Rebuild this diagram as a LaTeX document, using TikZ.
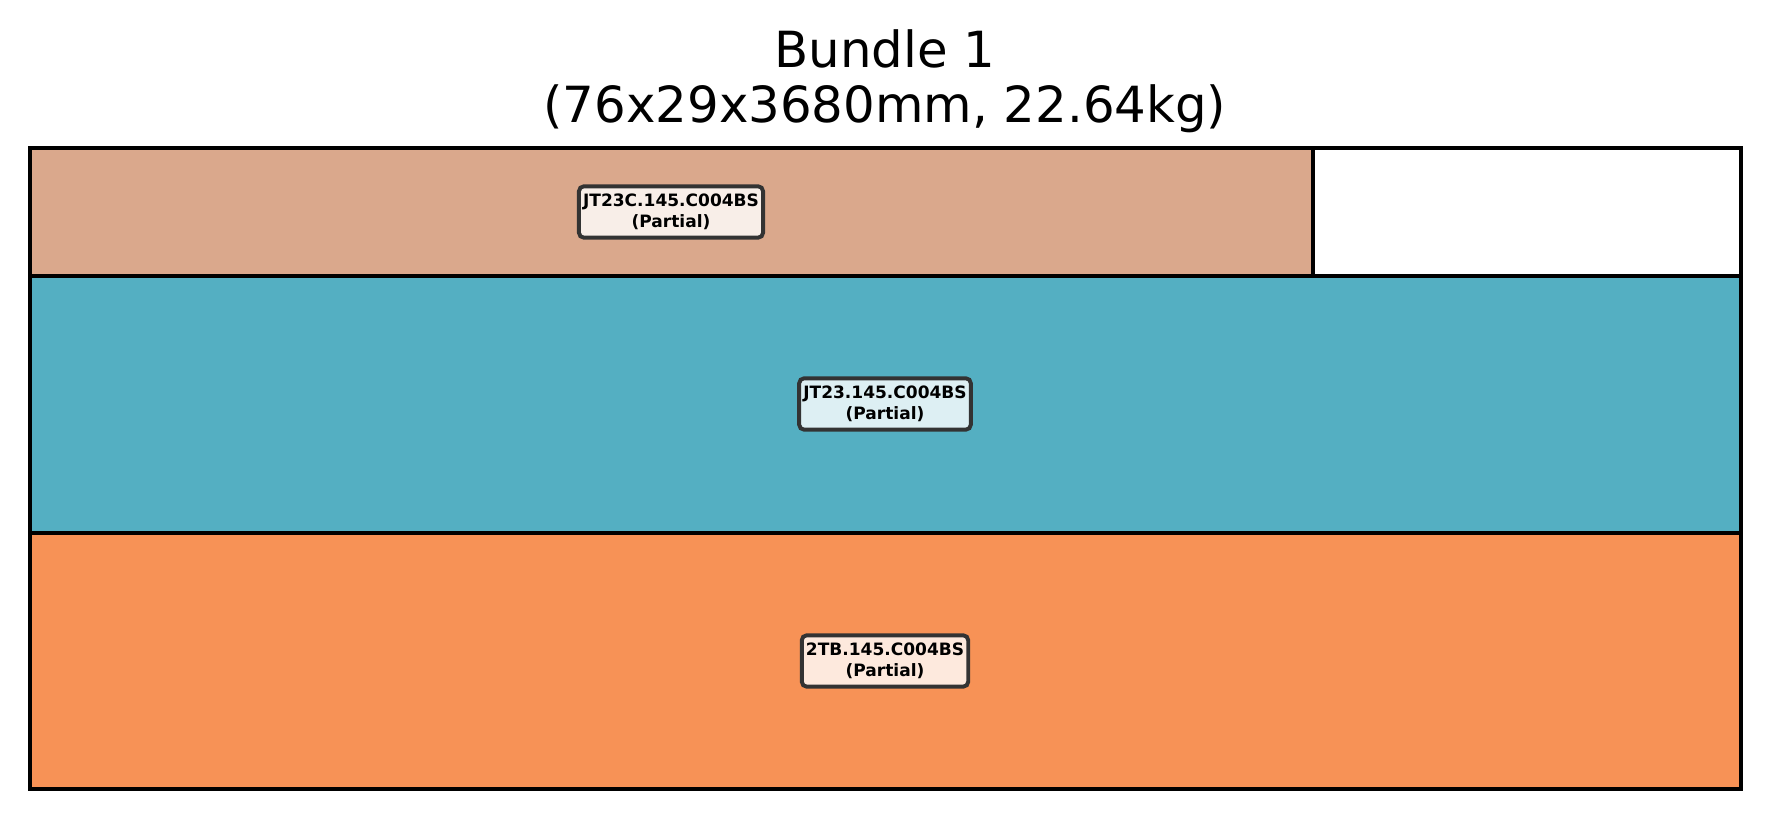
\documentclass[tikz,border=0pt]{standalone}
\usepackage{fontspec}
\setmainfont{DejaVu Sans}
\usetikzlibrary{positioning}
\definecolor{tanpart}{HTML}{DAA88C}
\definecolor{tealpart}{HTML}{54AFC2}
\definecolor{orangepart}{HTML}{F79256}

\begin{document}
\begin{tikzpicture}[x=0.2409pt,y=-0.2409pt,line width=0.8pt,
  tag/.style={draw=black!80,line width=0.95pt,rounded corners=1.2pt,
    inner xsep=1pt,inner ysep=1.9pt,align=center,
    font=\bfseries\fontsize{4.1}{5}\selectfont},
  heading/.style={anchor=base,font=\fontsize{12}{14}\selectfont}]
\useasboundingbox (0,0) rectangle (1770,819);
% pieces in the bundle
\filldraw[fill=tanpart] (30,148) rectangle (1313,276);
\filldraw[fill=white] (1313,148) rectangle (1741,276);
\filldraw[fill=tealpart] (30,276) rectangle (1741,533);
\filldraw[fill=orangepart] (30,533) rectangle (1741,789);
\node[tag,fill=tanpart!20!white] (jt23c) at (671,212) {JT23C.145.C004BS\\(Partial)};
\node[tag,fill=tealpart!20!white] (jt23) at (885,404) {JT23.145.C004BS\\(Partial)};
\node[tag,fill=orangepart!20!white] (twotb) at (885,661) {2TB.145.C004BS\\(Partial)};
% heading
\node[heading] (title) at (885,68) {Bundle 1};
\node[heading] (size) at (885,123) {(76x29x3680mm, 22.64kg)};
\end{tikzpicture}
\end{document}
